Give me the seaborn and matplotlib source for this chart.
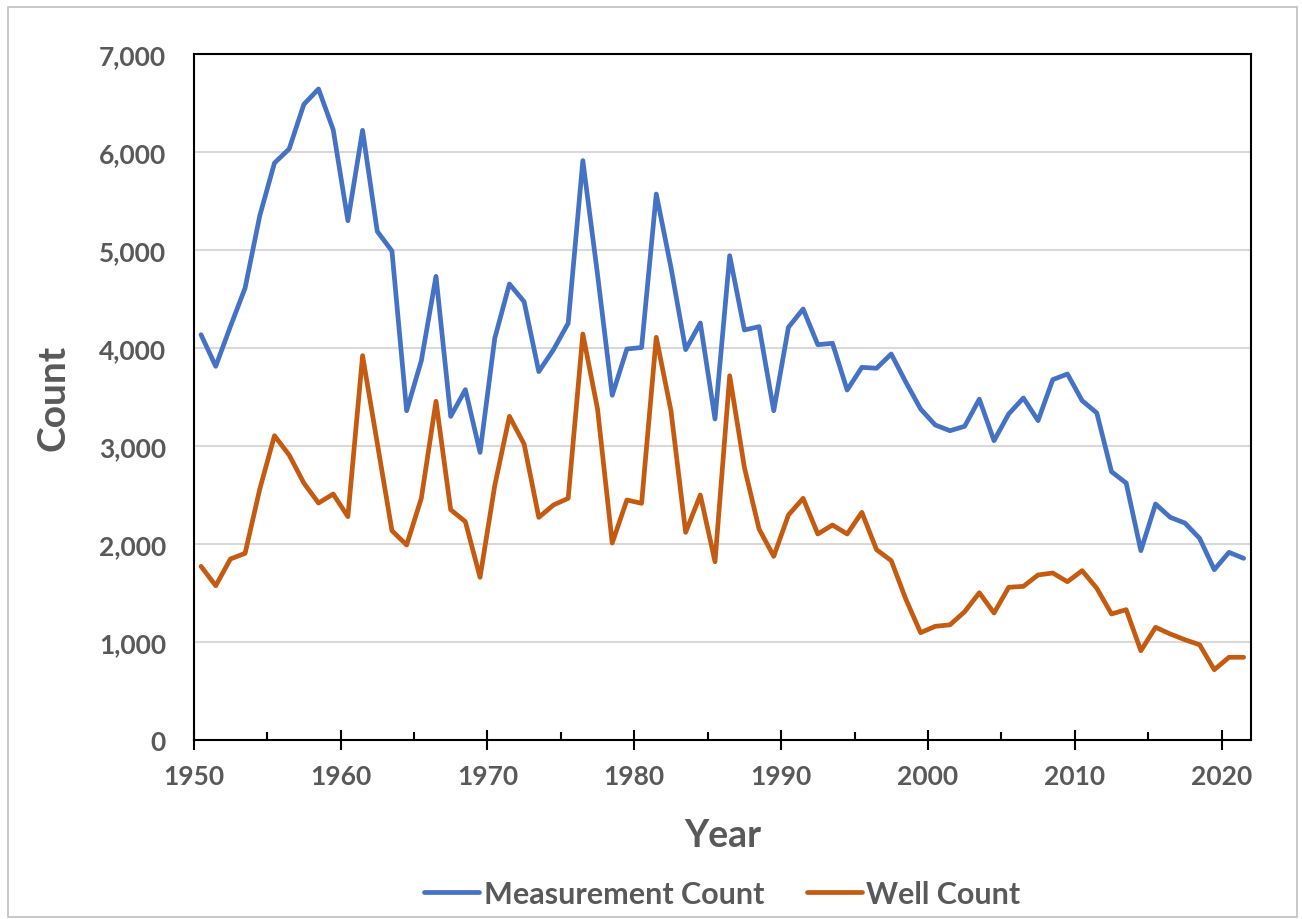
import matplotlib
matplotlib.use("Agg")
import matplotlib.pyplot as plt
from matplotlib.ticker import MultipleLocator, StrMethodFormatter
from matplotlib.patches import Rectangle
import pandas as pd
import seaborn as sns

# Yearly counts, 1950-2021
years = list(range(1950, 2022))

measurement_count = [
    4136, 3813, 4220, 4612, 5350, 5888, 6031, 6486, 6643, 6228,
    5299, 6221, 5190, 4990, 3360, 3870, 4731, 3302, 3575, 2935,
    4098, 4653, 4473, 3759, 3983, 4252, 5912, 4750, 3518, 3990,
    4005, 5571, 4823, 3983, 4255, 3276, 4942, 4184, 4218, 3360,
    4211, 4398, 4034, 4048, 3571, 3803, 3793, 3939, 3650, 3378,
    3214, 3156, 3201, 3478, 3054, 3327, 3490, 3259, 3677, 3735,
    3463, 3337, 2738, 2622, 1932, 2408, 2272, 2214, 2058, 1738,
    1915, 1854,
]

well_count = [
    1772, 1574, 1847, 1905, 2561, 3105, 2908, 2622, 2418, 2510,
    2279, 3922, 3030, 2136, 1990, 2466, 3456, 2350, 2228, 1660,
    2595, 3303, 3020, 2272, 2398, 2466, 4143, 3378, 2010, 2449,
    2415, 4109, 3360, 2119, 2500, 1819, 3717, 2782, 2153, 1874,
    2296, 2466, 2102, 2194, 2102, 2323, 1942, 1830, 1435, 1095,
    1160, 1175, 1309, 1503, 1296, 1558, 1568, 1684, 1704, 1615,
    1728, 1548, 1286, 1330, 911, 1150, 1082, 1023, 972, 717,
    844, 844,
]

series_names = ["Measurement Count", "Well Count"]
colors = ["#4472C4", "#C55A11"]

df = pd.DataFrame({
    "Year": [y + 0.5 for y in years] * 2,
    "Count": measurement_count + well_count,
    "Series": [series_names[0]] * len(years) + [series_names[1]] * len(years),
})

sns.set_theme(style="white")
plt.rcParams["font.family"] = ["Lato", "DejaVu Sans"]
plt.rcParams["font.weight"] = "bold"
gray = "#595959"

fig = plt.figure(figsize=(13.02, 9.2), dpi=100)
ax = fig.add_axes([193.7 / 1302, 1 - 741 / 920, (1251 - 193.7) / 1302, (741 - 55) / 920])

# light border around the whole chart area
fig.patches.append(Rectangle((8 / 1302, 2 / 920), 1289 / 1302, 910 / 920,
                             transform=fig.transFigure, fill=False,
                             edgecolor="#BFBFBF", linewidth=1.2))

sns.lineplot(data=df, x="Year", y="Count", hue="Series", palette=colors,
             linewidth=3.4, ax=ax, legend=True)

ax.set_xlim(1950, 2022)
ax.set_ylim(0, 7000)
ax.xaxis.set_major_locator(MultipleLocator(10))
ax.xaxis.set_minor_locator(MultipleLocator(5))
ax.yaxis.set_major_locator(MultipleLocator(1000))
ax.yaxis.set_major_formatter(StrMethodFormatter("{x:,.0f}"))

ax.grid(axis="y", color="#D9D9D9", linewidth=1.5)
ax.set_axisbelow(True)
for s in ax.spines.values():
    s.set_visible(True)
    s.set_color("black")
    s.set_linewidth(1.5)

ax.tick_params(axis="x", which="major", direction="inout", length=14, width=1.5,
               color="black", labelsize=19, labelcolor=gray, pad=10, bottom=True)
ax.tick_params(axis="x", which="minor", direction="in", length=6, width=1.5,
               color="black", bottom=True)
ax.tick_params(axis="y", length=0, labelsize=19, labelcolor=gray, pad=20)
for lab in ax.get_xticklabels() + ax.get_yticklabels():
    lab.set_fontweight("bold")

ax.set_xlabel("Year", fontsize=27, fontweight="bold", color=gray, labelpad=22)
ax.set_ylabel("Count", fontsize=28, fontweight="bold", color=gray, labelpad=20)

leg = ax.legend(loc="lower center", bbox_to_anchor=(0.5, -0.285), ncol=2,
                frameon=False, fontsize=22, handlelength=1.8, handletextpad=0.15,
                columnspacing=1.4)
for t in leg.get_texts():
    t.set_color(gray)
    t.set_fontweight("bold")
for h in leg.get_lines():
    h.set_linewidth(3.4)

fig.savefig("out.png", dpi=100)
